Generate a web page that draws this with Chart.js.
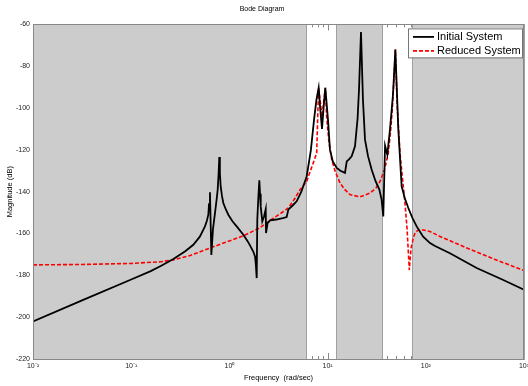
<!DOCTYPE html>
<html>
<head>
<meta charset="utf-8">
<script src="https://cdn.jsdelivr.net/npm/chart.js@4.4.0/dist/chart.umd.min.js"></script>
<style>
  html, body { margin: 0; padding: 0; background: #fff; }
  #wrap { width: 528px; height: 386px; }
</style>
</head>
<body>
<div id="wrap"><canvas id="bode"></canvas></div>
<script>
// Initial System (rad/sec, dB)
var freqInit = [0.01, 0.0316, 0.1, 0.158, 0.2, 0.269, 0.355, 0.429, 0.5, 0.564, 0.589, 0.61, 0.62, 0.634,
  0.655, 0.68, 0.713, 0.74, 0.76, 0.775, 0.789, 0.8, 0.815, 0.84, 0.867, 0.92, 0.975, 1.07, 1.186, 1.387,
  1.55, 1.75, 1.824, 1.86, 1.897, 1.923, 1.97, 2.018, 2.05, 2.084, 2.163, 2.25, 2.344, 2.36, 2.45, 2.594,
  3.0, 3.5, 3.828, 3.98, 4.4, 4.842, 5.4, 6.124, 6.76, 7.278, 7.7, 8.11, 8.4, 8.77, 9.1, 9.48, 10.09, 10.57,
  11.3, 12.39, 13.5, 15.03, 15.67, 16.5, 17.58, 19.01, 20.2, 20.89, 21.88, 22.91, 24.04, 25.8, 28.12, 30.8,
  33.65, 35.48, 36.9, 38.46, 40.55, 43.15, 46.34, 48.98, 52.48, 56.75, 61, 66.37, 73, 80.72, 94, 110.4,
  124.2, 176.2, 329.6, 600, 1000];
var magInit = [-202, -192, -182, -178, -175.5, -172.2, -168.5, -165.4, -161.5, -156.6, -154, -151, -146, -140.3,
  -170.2, -158, -150.2, -144, -139, -132, -123.4, -131, -137.5, -142, -145.4, -148.5, -151, -154, -156.6, -160.6,
  -164, -168.6, -171, -175, -181.3, -153.4, -143, -134.6, -141, -147, -154.2, -152, -148.3, -159.8, -155, -153.7,
  -153.3, -152.6, -152.1, -148.6, -146.6, -144.6, -140, -132.7, -120, -105.5, -96, -90.3, -100, -110, -100, -90.3, -105.5, -119.9,
  -125.5, -128.6, -130, -131, -125.5, -124.5, -123.1, -118.3, -105, -91.1, -63.7, -96, -115.1, -123, -129.5, -135,
  -139, -143.8, -151.8, -118, -122.3, -110.3, -93.5, -72, -110, -137.4, -143, -147.8, -152.5, -156.6, -161.5, -164.6,
  -166, -169.4, -176.5, -182, -186.9];

// Reduced System (rad/sec, dB)
var freqRed = [0.01, 0.0316, 0.1, 0.2, 0.269, 0.4, 0.588, 0.9, 1.387, 2.0, 2.594, 3.3, 3.98, 4.6, 5.24,
  6.124, 6.8, 7.3, 7.745, 7.943, 8.11, 8.77, 9.48, 9.77, 10.3, 11.02, 12.0, 13.37, 15, 16.9, 21.38, 27.04,
  31, 34.2, 38, 41.5, 44, 45.7, 47.5, 48.98, 50.2, 51.3, 54.58, 58, 61.38, 64.5, 67.92, 70.8, 74.65, 78,
  83.18, 94.41, 110, 139.6, 241, 500, 1000];
var magRed = [-175, -174.8, -174.3, -173.5, -172.6, -170.5, -167.5, -164.3, -161.1, -157.5, -153.7, -150.5, -147.8, -143.5, -139,
  -135.1, -129, -125, -121.5, -103, -90.3, -104, -90.3, -104, -116, -124.7, -130.5, -135.8, -139, -141.4, -142.5, -140.6,
  -138.3, -135.1, -129.5, -121.5, -110, -100, -85, -72, -88, -100, -121.5, -134, -145.4, -158, -177.4, -167, -162, -159.5,
  -158.4, -158.3, -159, -161.4, -166.2, -172.3, -177.7];

// unshaded frequency bands (rad/sec)
var whiteBands = [[6.0, 12.2], [35.8, 72]];

var xTicks = [0.01, 0.1, 1, 10, 100, 1000];
var xTickText = ['10\u207B\u00B2', '10\u207B\u00B9', '10\u2070', '10\u00B9', '10\u00B2', '10\u00B3'];

var FONT = "'Liberation Sans', Arial, sans-serif";

function pts(fs, ms) {
  return fs.map(function (f, i) { return { x: f, y: ms[i] }; });
}

var bandsPlugin = {
  id: 'bands',
  beforeDatasetsDraw: function (chart) {
    var ctx = chart.ctx, a = chart.chartArea, x = chart.scales.x;
    ctx.save();
    ctx.fillStyle = '#ffffff';
    ctx.fillRect(a.left, a.top, a.right - a.left, a.bottom - a.top);
    // gray patches between the white bands
    var edges = [x.min];
    whiteBands.forEach(function (b) { edges.push(b[0], b[1]); });
    edges.push(x.max);
    for (var i = 0; i < edges.length; i += 2) {
      var x0 = Math.round(x.getPixelForValue(edges[i])) + 0.5;
      var x1 = Math.round(x.getPixelForValue(edges[i + 1])) + 0.5;
      ctx.fillStyle = '#cccccc';
      ctx.fillRect(x0, a.top, x1 - x0, a.bottom - a.top);
      ctx.strokeStyle = '#a0a0a0';
      ctx.lineWidth = 1;
      ctx.strokeRect(x0, Math.round(a.top) + 0.5, x1 - x0, Math.round(a.bottom - a.top));
    }
    // minor ticks visible only inside white bands
    ctx.strokeStyle = '#888888';
    x.ticks.forEach(function (t) {
      whiteBands.forEach(function (b) {
        if (t.value > b[0] && t.value < b[1]) {
          var px = Math.round(x.getPixelForValue(t.value)) + 0.5;
          var len = xTicks.indexOf(t.value) >= 0 ? 6 : 3;
          ctx.beginPath();
          ctx.moveTo(px, a.top); ctx.lineTo(px, a.top + len);
          ctx.moveTo(px, a.bottom); ctx.lineTo(px, a.bottom - len);
          ctx.stroke();
        }
      });
    });
    ctx.restore();
  },
  afterDatasetsDraw: function (chart) {
    var ctx = chart.ctx, a = chart.chartArea;
    ctx.save();
    ctx.strokeStyle = '#888888';
    ctx.lineWidth = 1;
    ctx.strokeRect(Math.round(a.left) + 0.5, Math.round(a.top) + 0.5,
      Math.round(a.right - a.left) - 1, Math.round(a.bottom - a.top));
    // legend box, top right inside the axes
    var lx = a.right - 116, ly = a.top + 4, lw = 114, lh = 29;
    ctx.fillStyle = '#ffffff';
    ctx.fillRect(lx, ly, lw, lh);
    ctx.strokeStyle = '#777777';
    ctx.strokeRect(lx + 0.5, ly + 0.5, lw, lh);
    ctx.font = '11px ' + FONT;
    ctx.textBaseline = 'middle';
    chart.data.datasets.forEach(function (ds, i) {
      var yy = ly + 8.5 + i * 14;
      ctx.beginPath();
      ctx.strokeStyle = ds.borderColor;
      ctx.lineWidth = ds.borderWidth;
      ctx.setLineDash(ds.borderDash || []);
      ctx.moveTo(lx + 5, yy); ctx.lineTo(lx + 26, yy);
      ctx.stroke();
      ctx.setLineDash([]);
      ctx.fillStyle = '#000000';
      ctx.fillText(ds.label, lx + 29, yy + 0.5);
    });
    ctx.restore();
  }
};

new Chart(document.getElementById('bode'), {
  type: 'line',
  data: {
    datasets: [{
      label: 'Initial System',
      data: pts(freqInit, magInit),
      borderColor: '#000000',
      borderWidth: 1.8,
      pointRadius: 0,
      tension: 0
    }, {
      label: 'Reduced System',
      data: pts(freqRed, magRed),
      borderColor: '#ff0000',
      borderWidth: 1.6,
      borderDash: [4, 2],
      pointRadius: 0,
      tension: 0
    }]
  },
  plugins: [bandsPlugin],
  options: {
    responsive: true,
    maintainAspectRatio: false,
    animation: false,
    layout: { padding: { top: 0, right: 4, left: 0, bottom: 0 } },
    plugins: {
      legend: { display: false },
      tooltip: { enabled: false },
      title: {
        display: true,
        text: 'Bode Diagram',
        color: '#000',
        font: { family: FONT, size: 7, weight: 'normal' },
        padding: { top: 5, bottom: 11 }
      }
    },
    scales: {
      x: {
        type: 'logarithmic',
        min: 0.01,
        max: 1000,
        grid: { display: false, drawTicks: false },
        border: { display: false },
        ticks: {
          autoSkip: false,
          maxRotation: 0,
          padding: 3,
          color: '#222',
          font: { family: FONT, size: 7 },
          callback: function (v) {
            var k = xTicks.indexOf(v);
            return k >= 0 ? xTickText[k] : '';
          }
        },
        title: {
          display: true,
          text: 'Frequency  (rad/sec)',
          color: '#000',
          font: { family: FONT, size: 7.5 },
          padding: { top: 0, bottom: 4 }
        },
        afterFit: function (s) { s.height = 27; s.paddingRight = 0; s.paddingLeft = 0; }
      },
      y: {
        min: -220,
        max: -60,
        grid: { display: false, drawTicks: false },
        border: { display: false },
        ticks: {
          stepSize: 20,
          padding: 3,
          color: '#222',
          font: { family: FONT, size: 7 }
        },
        title: {
          display: true,
          text: 'Magnitude (dB)',
          color: '#000',
          font: { family: FONT, size: 7.5 },
          padding: { top: 5, bottom: 0 }
        },
        afterFit: function (s) { s.width = 33; }
      }
    }
  }
});
</script>
</body>
</html>
